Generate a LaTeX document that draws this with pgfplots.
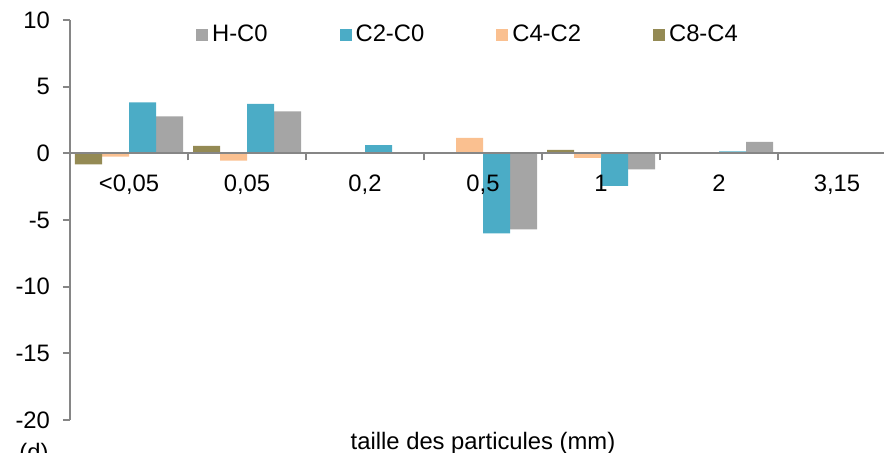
\documentclass[border=0pt]{standalone}
\usepackage{fontspec}
\setmainfont{Liberation Sans}
\usepackage{pgfplots}
\pgfplotsset{compat=1.18}
\definecolor{cgray}{HTML}{A5A5A5}
\definecolor{cblue}{HTML}{4BACC6}
\definecolor{cpeach}{HTML}{FAC090}
\definecolor{colive}{HTML}{948A54}
\definecolor{axisgray}{HTML}{868686}
\begin{document}
\begin{tikzpicture}[font=\fontsize{11.9bp}{14bp}\selectfont]
\begin{axis}[
  scale only axis,
  width=413bp, height=200bp,
  xmin=-0.5, xmax=6.5,
  ymin=-20, ymax=10,
  axis on top,
  axis x line*=middle,
  axis y line*=left,
  axis line style={draw=axisgray, line width=0.9bp},
  tick style={draw=axisgray, line width=0.9bp},
  tick align=outside,
  major tick length=3.5bp,
  xtick={0.5,1.5,2.5,3.5,4.5,5.5},
  xticklabels={},
  extra x ticks={0,1,2,3,4,5,6},
  extra x tick labels={{<0,05},{0,05},{0,2},{0,5},{1},{2},{3,15}},
  extra x tick style={major tick length=0pt, xticklabel style={yshift=-7.5bp}},
  ytick={-20,-15,-10,-5,0,5,10},
  yticklabels={{-20},{-15},{-10},{-5},{0},{5},{10}},
  yticklabel style={xshift=-3bp},
  ybar,
  bar width=13.5bp,
  legend columns=4,
  legend style={draw=none, fill=none, at={(0.483,0.9625)}, anchor=center,
    /tikz/every even column/.append style={column sep=34bp},
    inner sep=0pt},
  legend image code/.code={\fill[#1] (0bp,-3bp) rectangle (6bp,3bp);},
  clip=false,
]
\addplot[fill=cgray, draw=none, bar shift=20.25bp] coordinates {(0,2.78) (1,3.15) (2,0) (3,-5.7) (4,-1.2) (5,0.85) (6,0)};
\addlegendentry{H-C0}
\addplot[fill=cblue, draw=none, bar shift=6.75bp] coordinates {(0,3.83) (1,3.7) (2,0.62) (3,-6.0) (4,-2.45) (5,0.15) (6,0)};
\addlegendentry{C2-C0}
\addplot[fill=cpeach, draw=none, bar shift=-6.75bp] coordinates {(0,-0.25) (1,-0.55) (2,0.08) (3,1.15) (4,-0.35) (5,-0.05) (6,0)};
\addlegendentry{C4-C2}
\addplot[fill=colive, draw=none, bar shift=-20.25bp] coordinates {(0,-0.83) (1,0.55) (2,0) (3,0) (4,0.25) (5,0.08) (6,0)};
\addlegendentry{C8-C4}
\node at (axis cs:3,-20) [yshift=-11.5bp] {taille des particules (mm)};
\node at (rel axis cs:0,0) [xshift=-18bp, yshift=-17bp] {(d)};
\end{axis}
\pgfresetboundingbox
\path[use as bounding box] (-35bp,-16.5bp) rectangle (407bp,210bp);
\end{tikzpicture}
\end{document}
